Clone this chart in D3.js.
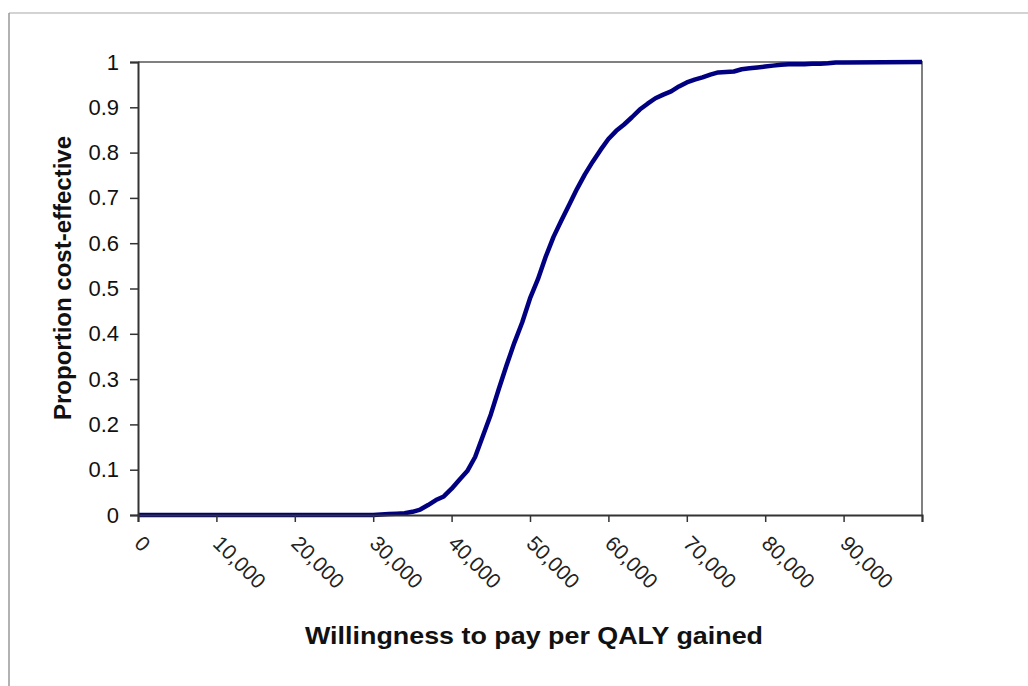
<!DOCTYPE html>
<html>
<head>
<meta charset="utf-8">
<script src="https://cdn.jsdelivr.net/npm/d3@7"></script>
<style>
  body { margin: 0; background: #fff; }
  text { font-family: Arial, "Liberation Sans", sans-serif; fill: #111; }
</style>
</head>
<body>
<div id="chart"></div>
<script>
// willingness to pay (x) and proportion cost-effective (y)
var wtp = [0, 10000, 20000, 30000, 31000, 32000, 33000, 34000, 35000, 36000,
           37000, 38000, 39000, 40000, 41000, 42000, 43000, 44000, 45000, 46000,
           47000, 48000, 49000, 50000, 51000, 52000, 53000, 54000, 55000, 56000,
           57000, 58000, 59000, 60000, 61000, 62000, 63000, 64000, 65000, 66000,
           67000, 68000, 69000, 70000, 71000, 72000, 73000, 74000, 75000, 76000,
           77000, 78000, 79000, 80000, 81000, 82000, 83000, 84000, 85000, 86000,
           87000, 88000, 89000, 90000, 100000];
var propCE = [0, 0, 0, 0, 0.001, 0.002, 0.003, 0.004, 0.007, 0.012,
              0.022, 0.033, 0.041, 0.058, 0.078, 0.097, 0.128, 0.175, 0.222, 0.277,
              0.33, 0.38, 0.425, 0.478, 0.52, 0.57, 0.614, 0.65, 0.685, 0.72,
              0.752, 0.78, 0.806, 0.83, 0.848, 0.862, 0.878, 0.895, 0.908, 0.92,
              0.928, 0.935, 0.946, 0.955, 0.961, 0.966, 0.972, 0.977, 0.978, 0.979,
              0.984, 0.986, 0.988, 0.99, 0.992, 0.994, 0.995, 0.995, 0.995, 0.996,
              0.996, 0.997, 0.999, 0.999, 1];
var xTicks = [0, 10000, 20000, 30000, 40000, 50000, 60000, 70000, 80000, 90000, 100000];
var yTicks = [0, 0.1, 0.2, 0.3, 0.4, 0.5, 0.6, 0.7, 0.8, 0.9, 1];

var data = wtp.map(function(d, i) { return {wtp: d, p: propCE[i]}; });

var W = 1028, H = 686;
var margin = {top: 62, right: 106, bottom: 171, left: 138},
    width = W - margin.left - margin.right,
    height = H - margin.top - margin.bottom;

var svg = d3.select("#chart").append("svg")
    .attr("width", W)
    .attr("height", H);

// outer frame
svg.append("line").attr("x1", 9).attr("y1", 13).attr("x2", W).attr("y2", 13)
    .attr("stroke", "#c4c4c4").attr("stroke-width", 1.5);
svg.append("line").attr("x1", 9).attr("y1", 13).attr("x2", 9).attr("y2", H)
    .attr("stroke", "#999").attr("stroke-width", 1.5);

var g = svg.append("g")
    .attr("transform", "translate(" + margin.left + "," + margin.top + ")");

var x = d3.scaleLinear().domain([0, 100000]).range([0, width]);
var y = d3.scaleLinear().domain([0, 1]).range([height, 0]);

// plot border top and right
g.append("path")
    .attr("d", "M0,0H" + width + "V" + height)
    .attr("fill", "none")
    .attr("stroke", "#808080")
    .attr("stroke-width", 2);

// the curve
var valueline = d3.line()
    .x(function(d) { return x(d.wtp); })
    .y(function(d) { return y(d.p); });

g.append("path")
    .datum(data)
    .attr("fill", "none")
    .attr("stroke", "#000080")
    .attr("stroke-width", 4.5)
    .attr("stroke-linejoin", "round")
    .attr("d", valueline);

// y axis
var yAxis = g.append("g")
    .call(d3.axisLeft(y).tickValues(yTicks).tickSize(8).tickPadding(11)
      .tickFormat(function(d) { return d3.format("~g")(d); }));
yAxis.select(".domain").attr("stroke", "#333").attr("stroke-width", 2);
yAxis.selectAll(".tick line").attr("stroke", "#333").attr("stroke-width", 1.5);
yAxis.selectAll("text").style("font-size", "22px").attr("fill", "#222");

// x axis
var xAxis = g.append("g")
    .attr("transform", "translate(0," + height + ")")
    .call(d3.axisBottom(x).tickValues(xTicks).tickSize(7).tickFormat(""));
xAxis.select(".domain").attr("stroke", "#333").attr("stroke-width", 2);
xAxis.selectAll(".tick line").attr("stroke", "#333").attr("stroke-width", 1.5);

g.selectAll(".xlab")
    .data(xTicks.slice(0, -1))
  .enter().append("text")
    .attr("class", "xlab")
    .attr("transform", function(d) {
      return "translate(" + (x(d) + 6) + "," + (height + 19) + ") rotate(45)";
    })
    .attr("dy", "0.72em")
    .style("font-size", "21px")
    .style("fill", "#222")
    .text(function(d) { return d3.format(",")(d); });

// axis titles
g.append("text")
    .attr("x", 534 - margin.left)
    .attr("y", 644 - margin.top)
    .attr("textLength", 458)
    .attr("lengthAdjust", "spacingAndGlyphs")
    .style("text-anchor", "middle")
    .style("font-size", "24px")
    .style("font-weight", "bold")
    .text("Willingness to pay per QALY gained");

g.append("text")
    .attr("transform", "rotate(-90)")
    .attr("x", -(278 - margin.top))
    .attr("y", 71 - margin.left)
    .style("text-anchor", "middle")
    .style("font-size", "24px")
    .style("font-weight", "bold")
    .text("Proportion cost-effective");
</script>
</body>
</html>
